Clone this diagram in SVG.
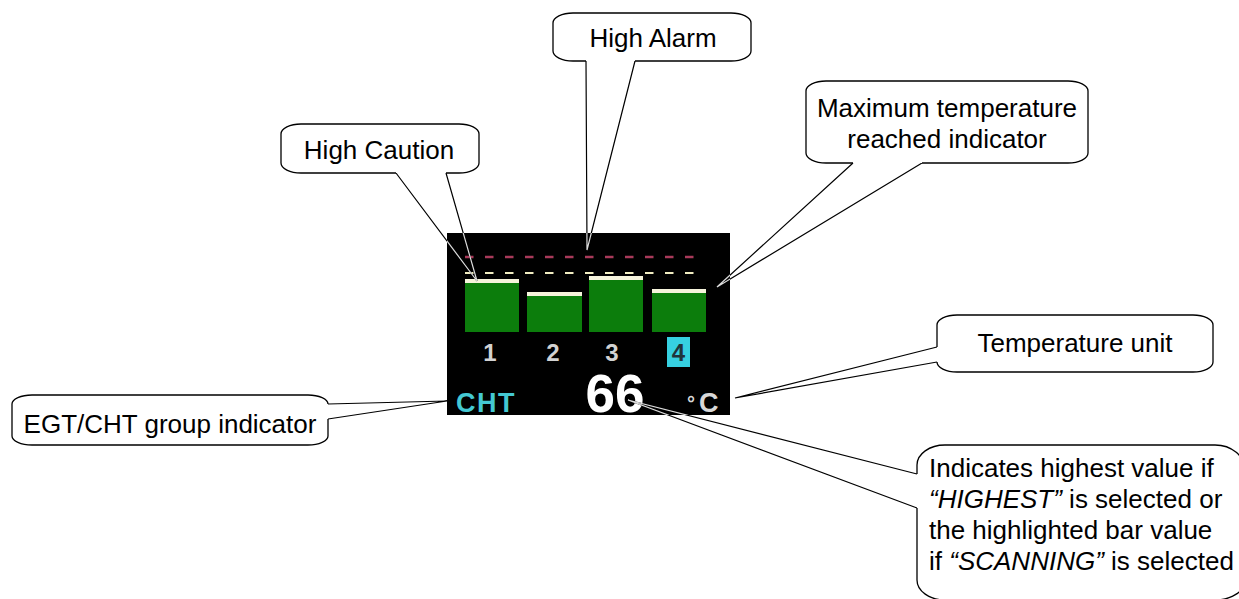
<svg xmlns="http://www.w3.org/2000/svg" xmlns:xlink="http://www.w3.org/1999/xlink" width="1239" height="599" viewBox="0 0 1239 599">
<style>
.box{fill:#fff;stroke:#000;stroke-width:1.3}
.lbl{font-family:"Liberation Sans",Arial,sans-serif;font-size:26px;fill:#000}
.mid{text-anchor:middle}
.scr{font-family:"Liberation Sans",Arial,sans-serif;font-weight:bold}
.bar{fill:#0c7d0c}
.cap{fill:#f6f4dc}
.num{font-size:24px;fill:#d2d2d2;text-anchor:middle}
</style>
<defs>
<clipPath id="scrClip"><rect x="447" y="233" width="283" height="182"/></clipPath>
</defs>
<rect width="1239" height="599" fill="#fff"/>

<g id="screen">
<rect x="447" y="233" width="283" height="182" fill="#000"/>
<line x1="465" y1="257" x2="697" y2="257" stroke="#a83a5a" stroke-width="2.5" stroke-dasharray="8.5 11.5"/>
<line x1="465" y1="273" x2="697" y2="273" stroke="#f0ecc0" stroke-width="2" stroke-dasharray="8.5 11.5"/>
<rect class="bar" x="465" y="279" width="54" height="53"/><rect class="cap" x="465" y="279" width="54" height="4"/>
<rect class="bar" x="527" y="292" width="55" height="40"/><rect class="cap" x="527" y="292" width="55" height="4"/>
<rect class="bar" x="589" y="276" width="54" height="56"/><rect class="cap" x="589" y="276" width="54" height="4"/>
<rect class="bar" x="652" y="289" width="54" height="43"/><rect class="cap" x="652" y="289" width="54" height="4"/>
<text class="scr num" x="490" y="361">1</text>
<text class="scr num" x="553" y="361">2</text>
<text class="scr num" x="612" y="361">3</text>
<rect x="667" y="337" width="23" height="30" fill="#36d0e0"/>
<text class="scr num" x="678.5" y="361" style="fill:#20343a">4</text>
<text class="scr" x="456" y="412" font-size="27" letter-spacing="1.5" fill="#44c8d2">CHT</text>
<text class="scr" x="615" y="412" font-size="53" fill="#fff" text-anchor="middle">66</text>
<text class="scr" x="687" y="412" font-size="27" fill="#d8d8d8"><tspan font-size="20" dy="-2">°</tspan><tspan dx="4" dy="2">C</tspan></text>
</g>

<g id="connectors" fill="none" stroke="#000" stroke-width="1.2">
<g id="pointer-lines">
<polyline points="586,61 587,250 635,61"/>
<polyline points="396,173 477,281 446,173"/>
<polyline points="853,163 717,287 922,163"/>
<polyline points="937,347 735,398 937,362"/>
<polyline points="328,404 447,401 328,419"/>
<polyline points="917,474 628,400 917,508"/>
</g>
</g>
<use xlink:href="#pointer-lines" fill="none" stroke="#dcdcdc" stroke-width="1.2" clip-path="url(#scrClip)"/>

<g id="callout-high-alarm">
<path class="box" d="M635,61 L731,61 A20 10 0 0 0 751,51 L751,23 A20 10 0 0 0 731,13 L573,13 A20 10 0 0 0 553,23 L553,51 A20 10 0 0 0 573,61 L586,61"/>
<text class="lbl mid" x="653" y="47">High Alarm</text>
</g>

<g id="callout-high-caution">
<path class="box" d="M446,173 L459,173 A20 10 0 0 0 479,163 L479,134 A20 10 0 0 0 459,124 L301,124 A20 10 0 0 0 281,134 L281,163 A20 10 0 0 0 301,173 L396,173"/>
<text class="lbl mid" x="379" y="159">High Caution</text>
</g>

<g id="callout-max-temp">
<path class="box" d="M922,163 L1068,163 A20 10 0 0 0 1088,153 L1088,91 A20 10 0 0 0 1068,81 L826,81 A20 10 0 0 0 806,91 L806,153 A20 10 0 0 0 826,163 L853,163"/>
<text class="lbl mid" x="947" y="117">Maximum temperature</text>
<text class="lbl mid" x="947" y="148">reached indicator</text>
</g>

<g id="callout-temp-unit">
<path class="box" d="M937,347 L937,325 A20 10 0 0 1 957,315 L1193,315 A20 10 0 0 1 1213,325 L1213,362 A20 10 0 0 1 1193,372 L957,372 A20 10 0 0 1 937,362"/>
<text class="lbl mid" x="1075" y="352">Temperature unit</text>
</g>

<g id="callout-group">
<path class="box" d="M328,419 L328,436 A20 9 0 0 1 308,445 L32,445 A20 9 0 0 1 12,436 L12,404 A20 9 0 0 1 32,395 L308,395 A20 9 0 0 1 328,404"/>
<text class="lbl mid" x="170" y="433">EGT/CHT group indicator</text>
</g>

<g id="callout-value">
<path class="box" d="M917,508 L917,580 A28 20 0 0 0 945,600 L1215,600 A30 20 0 0 0 1245,580 L1245,470 A30 25 0 0 0 1215,445 L945,445 A28 20 0 0 0 917,465 L917,474"/>
<text class="lbl" x="929" y="477">Indicates highest value if</text>
<text class="lbl" x="929" y="508"><tspan font-style="italic">“HIGHEST”</tspan> is selected or</text>
<text class="lbl" x="929" y="539">the highlighted bar value</text>
<text class="lbl" x="929" y="570">if <tspan font-style="italic">“SCANNING”</tspan> is selected</text>
</g>
</svg>
